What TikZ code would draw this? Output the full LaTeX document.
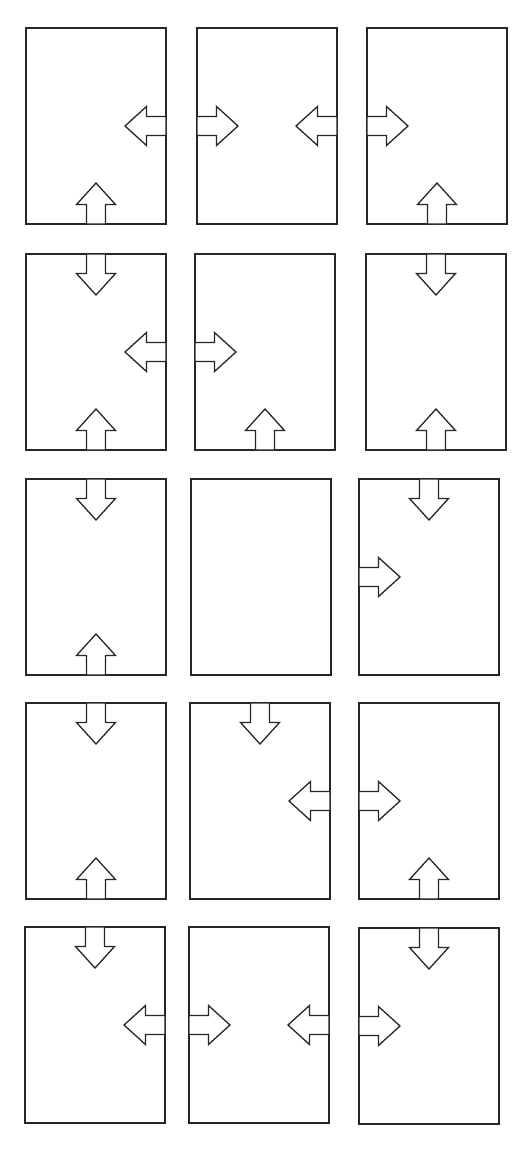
\documentclass[tikz,border=0pt]{standalone}
\usepackage{tikz}
\tikzset{
  x=1pt, y=-1pt,
  panel/.style={draw=black!85, line width=1.2pt, minimum width=140pt, minimum height=196pt, inner sep=0pt, outer sep=0pt, anchor=north west},
  blockarrow/.pic={
    \draw[black!85, line width=1.3pt, line join=miter, fill=white]
      (0pt,9.5pt) -- (19.5pt,9.5pt) -- (19.5pt,19.5pt) -- (41pt,0pt)
      -- (19.5pt,-19.5pt) -- (19.5pt,-9.5pt) -- (0pt,-9.5pt) -- cycle;
  }
}
\begin{document}
\begin{tikzpicture}
\fill[white] (0,0) rectangle (531,1151);
\useasboundingbox (0,0) rectangle (531,1151);
% row 1
\node[panel] (b11) at (26,28) {};
\node[panel] (b12) at (197,28) {};
\node[panel] (b13) at (367,28) {};
% row 2
\node[panel] (b21) at (26,254) {};
\node[panel] (b22) at (195,254) {};
\node[panel] (b23) at (366,254) {};
% row 3
\node[panel] (b31) at (26,479) {};
\node[panel] (b32) at (191,479) {};
\node[panel] (b33) at (359,479) {};
% row 4
\node[panel] (b41) at (26,703) {};
\node[panel] (b42) at (190,703) {};
\node[panel] (b43) at (359,703) {};
% row 5
\node[panel] (b51) at (25,927) {};
\node[panel] (b52) at (189,927) {};
\node[panel] (b53) at (359,928) {};
% arrows row 1
\pic[rotate=180] at (b11.east) {blockarrow};
\pic[rotate=90] at (b11.south) {blockarrow};
\pic at (b12.west) {blockarrow};
\pic[rotate=180] at (b12.east) {blockarrow};
\pic at (b13.west) {blockarrow};
\pic[rotate=90] at (b13.south) {blockarrow};
% arrows row 2
\pic[rotate=-90] at (b21.north) {blockarrow};
\pic[rotate=180] at (b21.east) {blockarrow};
\pic[rotate=90] at (b21.south) {blockarrow};
\pic at (b22.west) {blockarrow};
\pic[rotate=90] at (b22.south) {blockarrow};
\pic[rotate=-90] at (b23.north) {blockarrow};
\pic[rotate=90] at (b23.south) {blockarrow};
% arrows row 3
\pic[rotate=-90] at (b31.north) {blockarrow};
\pic[rotate=90] at (b31.south) {blockarrow};
\pic[rotate=-90] at (b33.north) {blockarrow};
\pic at (b33.west) {blockarrow};
% arrows row 4
\pic[rotate=-90] at (b41.north) {blockarrow};
\pic[rotate=90] at (b41.south) {blockarrow};
\pic[rotate=-90] at (b42.north) {blockarrow};
\pic[rotate=180] at (b42.east) {blockarrow};
\pic at (b43.west) {blockarrow};
\pic[rotate=90] at (b43.south) {blockarrow};
% arrows row 5
\pic[rotate=-90] at (b51.north) {blockarrow};
\pic[rotate=180] at (b51.east) {blockarrow};
\pic at (b52.west) {blockarrow};
\pic[rotate=180] at (b52.east) {blockarrow};
\pic[rotate=-90] at (b53.north) {blockarrow};
\pic at (b53.west) {blockarrow};
\end{tikzpicture}
\end{document}
